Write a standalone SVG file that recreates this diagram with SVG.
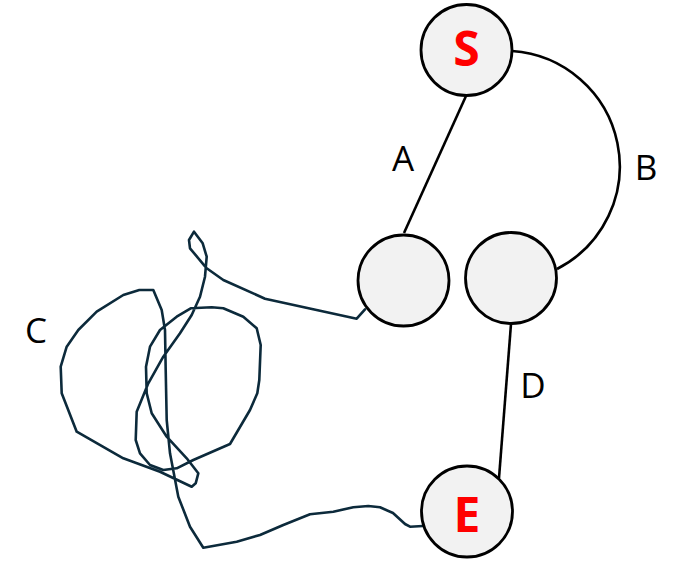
<svg xmlns="http://www.w3.org/2000/svg" width="680" height="573" viewBox="0 0 680 573">
<style>
.node{fill:#f2f2f2;stroke:#000;stroke-width:2.8}
.edge{fill:none;stroke:#000;stroke-width:2.6}
.wire{fill:none;stroke:#0c2a3b;stroke-width:2.6;stroke-linejoin:round;stroke-linecap:round}
.lbl{font-family:"Open Sans","Liberation Sans",sans-serif;font-size:35px;fill:#000;text-anchor:middle}
.key{font-family:"Open Sans","Liberation Sans",sans-serif;font-size:48px;font-weight:bold;fill:#ff0000;text-anchor:middle}
</style>
<rect width="680" height="573" fill="#fff"/>
<g id="connectors">
<line class="edge" x1="466" y1="96" x2="404" y2="233"/>
<path class="edge" d="M512,51 A115.5,115.5 0 0 1 557,269"/>
<line class="edge" x1="511" y1="324" x2="499" y2="478"/>
<polyline class="wire" points="365,309.3 356.7,318.7 265,298.7 223.3,280 206.7,268.3 190,248.3 189,240 194,231.7 202.7,243.3 206.7,256.7 205,276.7 200,296.7 191.7,315 180,333.3 163.3,356.7 148.3,383.3 136.7,411.7 135.7,440 140,453.3 150,465 163.3,470 176.7,468.3 193.3,460 230,444 250,410 257.3,393.3 259.3,380 260.7,345 256.7,328.3 243.3,316.7 223.3,308.3 211.7,307.3 190.7,308.3 176.7,316.7 160,330 150,346.7 146,366.7 146.7,393.3 151.7,413.3 166.7,436.7 186.7,458.3 198.3,473.3 195.7,483.3 191.7,486.7 160,471.7 123.3,458.3 76.7,431.7 61.7,393.3 60.7,366.7 66.7,346.7 78.3,330 96.7,311.7 123.3,295 139.3,290 153.3,290 161.7,310 165,330 165.7,370 166.7,420 170,453.3 178.3,496.7 190,526.7 203.3,547.7 236.7,541.7 260,535 283.3,525 310,514.3 333.3,511.7 353.3,507.3 368.3,506 380,507.3 393,513 405,524 410,526.7 423,526"/>
<text class="lbl" x="403" y="171">A</text>
<text class="lbl" x="646" y="180">B</text>
<text class="lbl" x="36" y="343">C</text>
<text class="lbl" x="533" y="398">D</text>
</g>
<g id="node-S">
<circle class="node" cx="466.5" cy="50" r="45.5"/>
<text class="key" x="466.5" y="66">S</text>
</g>
<g id="node-A">
<circle class="node" cx="403.5" cy="280.5" r="45.5"/>
</g>
<g id="node-B">
<circle class="node" cx="511" cy="278" r="45.5"/>
</g>
<g id="node-E">
<circle class="node" cx="467" cy="511.5" r="45.5"/>
<text class="key" x="467" y="531.5">E</text>
</g>
</svg>
